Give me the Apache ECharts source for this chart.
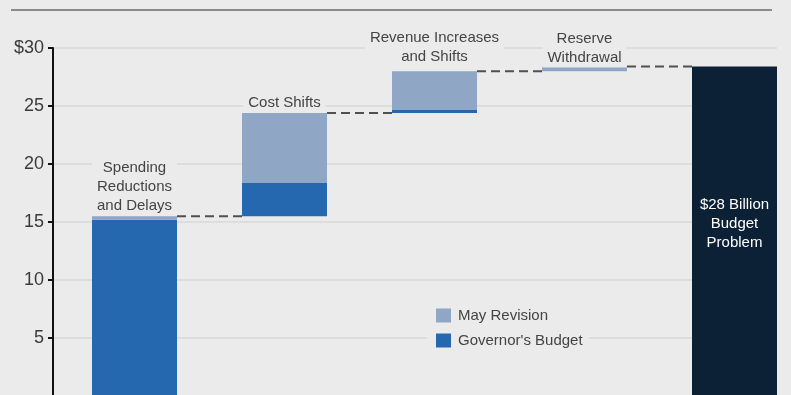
<!DOCTYPE html>
<html>
<head>
<meta charset="utf-8">
<script src="https://cdn.jsdelivr.net/npm/echarts@6/dist/echarts.min.js"></script>
<style>
  html, body { margin: 0; padding: 0; background: #ebebeb; }
  #chart { width: 791px; height: 395px; }
</style>
</head>
<body>
<div id="chart"></div>
<script>
// Steps that close the budget gap (billions of dollars)
const categories = [
  'Spending\nReductions\nand Delays',
  'Cost Shifts',
  'Revenue Increases\nand Shifts',
  'Reserve\nWithdrawal',
  'Budget\nProblem'
];
const governorsBudget = [15.2, 2.9, 0.3, 0];
const mayRevision = [0.3, 6.0, 3.3, 0.4];
const yTickValues = [5, 10, 15, 20, 25, 30];
const yTickLabels = ['5', '10', '15', '20', '25', '$30'];

const COLORS = { may: '#8fa6c4', gov: '#2568b0', total: '#0c2036', bg: '#ebebeb' };
const BAR_WIDTH = 85;
const FONT = '"Liberation Sans", Arial, sans-serif';
// Gap between each step and its caption
const LABEL_GAP = [1, 1, 5, -1];

// Running totals: base of each step and its top
const bases = [];
const tops = [];
let running = 0;
for (let i = 0; i < governorsBudget.length; i++) {
  bases.push(running);
  running += governorsBudget[i] + mayRevision[i];
  tops.push(running);
}
const total = running;
const n = categories.length;

const baseData = bases.concat(['-']);
const govData = governorsBudget.map(v => (v > 0 ? v : '-')).concat(['-']);
const mayData = mayRevision
  .map((v, i) => ({ value: v > 0 ? v : '-', label: { distance: LABEL_GAP[i] } }))
  .concat(['-']);
const totalData = new Array(n - 1).fill('-').concat([total]);
const connectorData = tops.map((t, i) => [i, t]);

const chart = echarts.init(document.getElementById('chart'));
chart.setOption({
  backgroundColor: COLORS.bg,
  animation: false,
  textStyle: { fontFamily: FONT },
  graphic: [{
    type: 'line',
    shape: { x1: 11, y1: 10, x2: 772, y2: 10 },
    style: { stroke: '#8a8a8a', lineWidth: 2 }
  }],
  grid: [
    { left: 53, right: 14, top: 48, bottom: -1, outerBoundsMode: 'none' },
    { left: 59.5, width: 750, top: 48, bottom: -1, outerBoundsMode: 'none' }
  ],
  xAxis: [
    { type: 'category', gridIndex: 0, data: categories, show: false },
    { type: 'category', gridIndex: 1, data: categories, show: false }
  ],
  yAxis: [
    {
      type: 'value', gridIndex: 0, min: 0, max: 30, interval: 5,
      axisLine: { show: true, lineStyle: { color: '#111', width: 2 } },
      axisTick: { show: true, length: 5, lineStyle: { color: '#111', width: 2 } },
      axisLabel: {
        showMinLabel: false,
        margin: 9,
        fontSize: 18,
        color: '#3a3a3a',
        fontFamily: FONT,
        formatter: v => {
          const k = yTickValues.indexOf(v);
          return k >= 0 ? yTickLabels[k] : '';
        }
      },
      splitLine: { show: true, lineStyle: { color: '#d8d8d8', width: 1.5 } }
    },
    { type: 'value', gridIndex: 1, min: 0, max: 30, interval: 5, show: false, splitLine: { show: false } }
  ],
  legend: {
    orient: 'vertical',
    left: 427,
    top: 303,
    padding: [5, 6, 5, 9],
    backgroundColor: COLORS.bg,
    itemWidth: 15,
    itemHeight: 14,
    itemGap: 10,
    icon: 'rect',
    data: ['May Revision', "Governor's Budget"],
    textStyle: { fontSize: 15, color: '#444', fontFamily: FONT, padding: [0, 0, 0, 2] }
  },
  series: [
    {
      name: 'base', type: 'bar', stack: 'w', xAxisIndex: 1, yAxisIndex: 1,
      barWidth: BAR_WIDTH, data: baseData,
      itemStyle: { color: 'rgba(0,0,0,0)' }, silent: true
    },
    {
      name: "Governor's Budget", type: 'bar', stack: 'w', xAxisIndex: 1, yAxisIndex: 1,
      barWidth: BAR_WIDTH, data: govData,
      itemStyle: { color: COLORS.gov }
    },
    {
      name: 'May Revision', type: 'bar', stack: 'w', xAxisIndex: 1, yAxisIndex: 1,
      barWidth: BAR_WIDTH, data: mayData,
      itemStyle: { color: COLORS.may },
      label: {
        show: true,
        position: 'top',
        distance: 1,
        fontSize: 15,
        lineHeight: 19,
        color: '#444',
        fontFamily: FONT,
        align: 'center',
        backgroundColor: COLORS.bg,
        padding: [1, 5, 0, 5],
        formatter: p => categories[p.dataIndex]
      }
    },
    {
      name: 'Budget Problem', type: 'bar', stack: 'w', xAxisIndex: 1, yAxisIndex: 1,
      barWidth: BAR_WIDTH, data: totalData,
      itemStyle: { color: COLORS.total },
      label: {
        show: true,
        position: 'inside',
        offset: [0, -7],
        fontSize: 15,
        lineHeight: 19,
        color: '#ffffff',
        fontFamily: FONT,
        formatter: p => '$' + Math.round(p.value) + ' Billion\n' + categories[p.dataIndex]
      }
    },
    {
      name: 'connectors', type: 'custom', xAxisIndex: 1, yAxisIndex: 1,
      data: connectorData,
      silent: true,
      z: 1,
      renderItem: (params, api) => {
        const i = api.value(0);
        const level = api.value(1);
        const a = api.coord([i, level]);
        const b = api.coord([i + 1, level]);
        return {
          type: 'line',
          shape: { x1: a[0] + BAR_WIDTH / 2, y1: a[1], x2: b[0] - BAR_WIDTH / 2, y2: a[1] },
          style: { stroke: '#505050', lineWidth: 2, lineDash: [9, 5] }
        };
      }
    }
  ]
});
</script>
</body>
</html>
